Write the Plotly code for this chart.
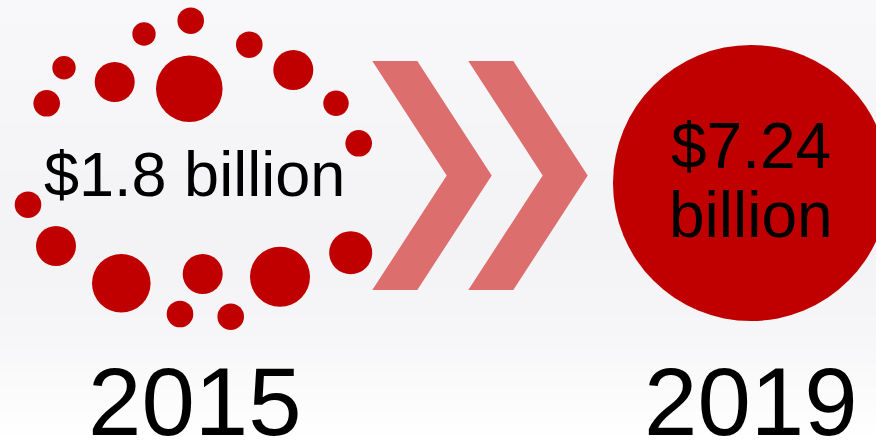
import math
import plotly.graph_objects as go

# ---- data ----
years = [2015, 2019]
values_bn = [1.8, 7.24]
value_labels = ["$1.8 billion", "$7.24 billion"]
year_labels = ["2015", "2019"]

# ---- layout constants (pixel canvas) ----
W, H = 876, 441
RED = "#c00000"
ARROW = "#dc6e6e"
FONT = "Liberation Sans, Arial, sans-serif"

# horizontal centre of each year column
COL_X = {2015: 194.5, 2019: 751}
BUBBLE_Y = 183
BUBBLE_PX_PER_SQRT_BN = 51.3  # radius in px per sqrt(billion)

# decorative ring of dots around the 2015 figure: (x, y, radius)
ring_dots = [
    (190.7, 20.7, 13.3), (144, 34, 11.7), (249.3, 44.7, 13.3),
    (64, 67.7, 11.7), (114.7, 82, 20), (189.3, 88.7, 33.3),
    (293.3, 70, 20), (46.7, 103.3, 13.3), (336, 103.3, 12.7),
    (358.7, 143.3, 13.3), (28, 204.7, 13.3), (56, 246, 20),
    (121.3, 283.3, 29.3), (202.7, 274, 20), (280, 276.7, 30),
    (350.7, 252.7, 21.5), (180, 314, 13.3), (230.7, 316.7, 13.3),
]

# chevron geometry: left x of each chevron, arm width, tip depth, top/bottom
CHEVRON_LEFT = [372.3, 468.3]
CHEVRON_ARM = 45.0
CHEVRON_DEPTH = 74.4
CHEVRON_TOP, CHEVRON_BOT = 61, 290

fig = go.Figure()

# soft vertical background gradient
bg_rows = list(range(0, H + 1, 7))
fig.add_trace(go.Heatmap(
    x=[0, W], y=bg_rows, z=[[r, r] for r in bg_rows],
    zmin=0, zmax=H, zsmooth="best", showscale=False, hoverinfo="skip",
    colorscale=[[0.0, "#f8f8fa"], [0.55, "#f3f3f6"], [0.75, "#f6f6f8"], [1.0, "#ffffff"]],
))

# ring of dots
fig.add_trace(go.Scatter(
    x=[d[0] for d in ring_dots], y=[d[1] for d in ring_dots],
    mode="markers", hoverinfo="skip",
    marker=dict(size=[2 * d[2] for d in ring_dots], color=RED, opacity=1,
                line=dict(width=0)),
))

# 2019 bubble sized from its value
r2019 = BUBBLE_PX_PER_SQRT_BN * math.sqrt(values_bn[1])
fig.add_trace(go.Scatter(
    x=[COL_X[years[1]]], y=[BUBBLE_Y], mode="markers", hoverinfo="skip",
    marker=dict(size=[2 * r2019], color=RED, opacity=1, line=dict(width=0)),
))

# chevron arrows
mid = (CHEVRON_TOP + CHEVRON_BOT) / 2
for x0 in CHEVRON_LEFT:
    path = (
        f"M{x0},{CHEVRON_TOP} L{x0 + CHEVRON_ARM},{CHEVRON_TOP} "
        f"L{x0 + CHEVRON_ARM + CHEVRON_DEPTH},{mid} "
        f"L{x0 + CHEVRON_ARM},{CHEVRON_BOT} L{x0},{CHEVRON_BOT} "
        f"L{x0 + CHEVRON_DEPTH},{mid} Z"
    )
    fig.add_shape(type="path", path=path, xref="x", yref="y",
                  fillcolor=ARROW, line=dict(width=0), layer="above")

# value labels
fig.add_annotation(x=COL_X[years[0]], y=174, text=value_labels[0], showarrow=False,
                   xanchor="center", yanchor="middle",
                   font=dict(family=FONT, size=63, color="black"))
first, rest = value_labels[1].split(" ", 1)
fig.add_annotation(x=COL_X[years[1]], y=146, text=first, showarrow=False,
                   xanchor="center", yanchor="middle",
                   font=dict(family=FONT, size=64, color="black"))
fig.add_annotation(x=COL_X[years[1]], y=215, text=rest, showarrow=False,
                   xanchor="center", yanchor="middle",
                   font=dict(family=FONT, size=64, color="black"))

# year labels
for yr, lab in zip(years, year_labels):
    fig.add_annotation(x=COL_X[yr], y=401, text=lab, showarrow=False,
                       xanchor="center", yanchor="middle",
                       font=dict(family=FONT, size=96, color="black"))

fig.update_layout(
    width=W, height=H, autosize=False,
    margin=dict(l=0, r=0, t=0, b=0, pad=0),
    paper_bgcolor="#ffffff", plot_bgcolor="#ffffff",
    showlegend=False,
    xaxis=dict(range=[0, W], visible=False, fixedrange=True),
    yaxis=dict(range=[H, 0], visible=False, fixedrange=True),
)

fig.write_html("out.html", config={"displayModeBar": False})
